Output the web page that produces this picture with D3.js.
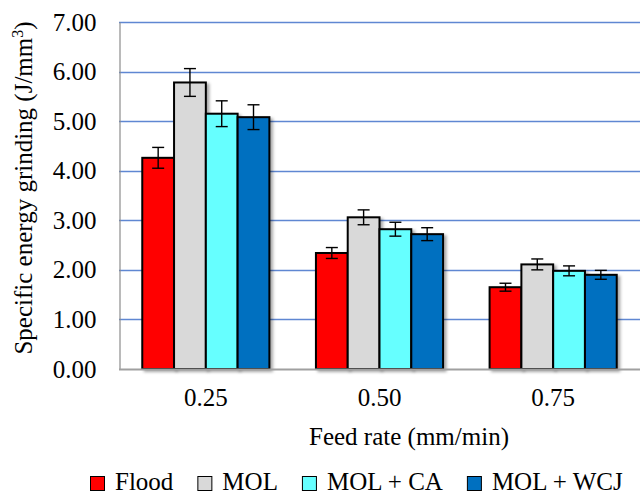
<!DOCTYPE html>
<html>
<head>
<meta charset="utf-8">
<script src="https://cdn.jsdelivr.net/npm/d3@7"></script>
<style>
  body { margin: 0; background: #fff; }
</style>
</head>
<body>
<div id="chart"></div>
<script>
// data
const categories = ["0.25", "0.50", "0.75"];
const seriesNames = ["Flood", "MOL", "MOL + CA", "MOL + WCJ"];
const seriesColors = ["#ff0000", "#d9d9d9", "#66ffff", "#0070c0"];
const values = [
  [4.26, 5.78, 5.15, 5.08],
  [2.34, 3.06, 2.82, 2.72],
  [1.65, 2.11, 1.98, 1.90]
];
const errors = [
  [0.21, 0.28, 0.26, 0.25],
  [0.11, 0.15, 0.14, 0.13],
  [0.08, 0.11, 0.10, 0.09]
];
const yTicks = [0, 1, 2, 3, 4, 5, 6, 7];

const width = 640;
const height = 495;
const plot = {left: 119, right: 640, top: 22, bottom: 369};
const serif = "Liberation Serif";
const fontSize = 25;

const svg = d3.select("#chart").append("svg")
    .attr("width", width)
    .attr("height", height)
    .attr("font-family", serif);

const defs = svg.append("defs");
const shadow = defs.append("filter")
    .attr("id", "shadow")
    .attr("x", "-20%").attr("y", "-20%")
    .attr("width", "150%").attr("height", "150%");
shadow.append("feDropShadow")
    .attr("dx", 2.5).attr("dy", 2)
    .attr("stdDeviation", 1.6)
    .attr("flood-color", "#000")
    .attr("flood-opacity", 0.35);

const y = d3.scaleLinear()
    .domain([0, 7])
    .range([plot.bottom, plot.top]);

const x0 = d3.scaleBand()
    .domain(categories)
    .range([plot.left, plot.right]);

const bw = x0.bandwidth();
const x1 = d3.scaleBand()
    .domain(seriesNames)
    .range([bw * 0.134, bw * 0.866]);

// gridlines
svg.append("g")
    .selectAll("line")
    .data(yTicks.filter(d => d > 0))
    .enter()
    .append("line")
    .attr("x1", plot.left)
    .attr("x2", plot.right)
    .attr("y1", d => Math.round(y(d)) + 0.5)
    .attr("y2", d => Math.round(y(d)) + 0.5)
    .style("stroke", "#5f87d2")
    .style("stroke-width", 1.3);

// y axis
const yAxis = d3.axisLeft(y)
    .tickValues(yTicks)
    .tickSize(0)
    .tickPadding(23)
    .tickFormat(d3.format(".2f"));

svg.append("g")
    .attr("transform", "translate(" + (plot.left + 0.5) + ",0)")
    .call(yAxis)
    .attr("font-family", serif)
    .attr("font-size", fontSize)
    .call(g => g.select(".domain").style("stroke", "#8c8c8c").style("stroke-width", 1.2))
    .selectAll("text")
    .style("fill", "#000");

// bars
const groups = svg.selectAll("g.group")
    .data(values)
    .enter()
    .append("g")
    .attr("class", "group")
    .attr("transform", (d, i) => "translate(" + x0(categories[i]) + ",0)");

groups.selectAll("rect")
    .data(d => d)
    .enter()
    .append("rect")
    .attr("x", (d, j) => x1(seriesNames[j]))
    .attr("y", d => y(d))
    .attr("width", x1.bandwidth())
    .attr("height", d => y(0) - y(d))
    .style("fill", (d, j) => seriesColors[j])
    .style("stroke", "#000")
    .style("stroke-width", 2)
    .attr("filter", "url(#shadow)");

// error bars
const capHalf = 6;
groups.each(function(row, i) {
    const g = d3.select(this);
    row.forEach((v, j) => {
        const cx = x1(seriesNames[j]) + x1.bandwidth() / 2;
        const e = errors[i][j];
        g.append("line")
            .attr("x1", cx).attr("x2", cx)
            .attr("y1", y(v + e)).attr("y2", y(v - e))
            .style("stroke", "#000").style("stroke-width", 1.4);
        [v + e, v - e].forEach(t => {
            g.append("line")
                .attr("x1", cx - capHalf).attr("x2", cx + capHalf)
                .attr("y1", y(t)).attr("y2", y(t))
                .style("stroke", "#000").style("stroke-width", 1.4);
        });
    });
});

// x axis
svg.append("line")
    .attr("x1", plot.left)
    .attr("x2", plot.right)
    .attr("y1", plot.bottom + 0.5)
    .attr("y2", plot.bottom + 0.5)
    .style("stroke", "#a0a0a0")
    .style("stroke-width", 2);

const xAxis = d3.axisBottom(x0)
    .tickSize(0)
    .tickPadding(0);

svg.append("g")
    .attr("transform", "translate(0," + plot.bottom + ")")
    .call(xAxis)
    .attr("font-family", serif)
    .attr("font-size", fontSize)
    .call(g => g.select(".domain").remove())
    .selectAll("text")
    .attr("dy", null)
    .attr("y", 37)
    .style("fill", "#000");

// axis titles
svg.append("text")
    .attr("x", 409)
    .attr("y", 445)
    .attr("text-anchor", "middle")
    .attr("font-family", serif)
    .attr("font-size", fontSize)
    .text("Feed rate (mm/min)");

const yTitle = svg.append("text")
    .attr("transform", "translate(32,188) rotate(-90)")
    .attr("text-anchor", "middle")
    .attr("font-family", serif)
    .attr("font-size", fontSize);
yTitle.append("tspan").text("Specific energy grinding (J/mm");
yTitle.append("tspan").attr("dy", -9).attr("font-size", 16).text("3");
yTitle.append("tspan").attr("dy", 9).text(")");

// legend
const legend = svg.append("g").attr("class", "legend");
let lx = 90;
seriesNames.forEach((name, j) => {
    legend.append("rect")
        .attr("x", lx + 0.5)
        .attr("y", 476.5)
        .attr("width", 14)
        .attr("height", 14)
        .style("fill", seriesColors[j])
        .style("stroke", "#000")
        .style("stroke-width", 1);
    const t = legend.append("text")
        .attr("x", lx + 25)
        .attr("y", 490)
        .attr("font-family", serif)
        .attr("font-size", fontSize)
        .text(name);
    lx = lx + 25 + t.node().getComputedTextLength() + 24;
});
</script>
</body>
</html>
